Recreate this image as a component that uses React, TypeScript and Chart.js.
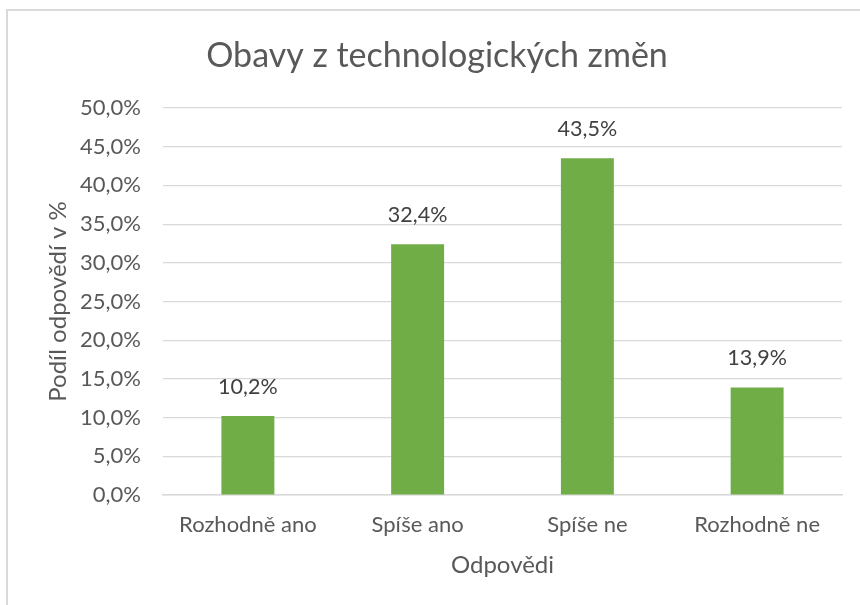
import React, { useEffect, useRef } from "react";
import { Chart, registerables } from "chart.js";

Chart.register(...registerables);

const chartTitle = "Obavy z technologických změn";
const categories = ["Rozhodně ano", "Spíše ano", "Spíše ne", "Rozhodně ne"];
const values = [10.2, 32.4, 43.5, 13.9];
const yAxisTitle = "Podíl odpovědí v %";
const xAxisTitle = "Odpovědi";
const yMin = 0;
const yMax = 50;
const yStep = 5;

const FONT = "Lato, 'Open Sans', sans-serif";
const fmt = (v: number) => v.toFixed(1).replace(".", ",") + "%";

const dataLabelPlugin = {
  id: "dataLabels",
  afterDatasetsDraw(chart: any) {
    const ctx = chart.ctx;
    const meta = chart.getDatasetMeta(0);
    ctx.save();
    ctx.font = `21.5px ${FONT}`;
    ctx.fillStyle = "#404040";
    ctx.textAlign = "center";
    ctx.textBaseline = "middle";
    meta.data.forEach((bar: any, i: number) => {
      const v = chart.data.datasets[0].data[i] as number;
      ctx.fillText(fmt(v), bar.x, bar.y - 29);
    });
    ctx.restore();
  },
};

export default function App() {
  const ref = useRef<HTMLCanvasElement | null>(null);
  useEffect(() => {
    if (!ref.current) return;
    const chart = new Chart(ref.current, {
      type: "bar",
      data: {
        labels: categories,
        datasets: [
          {
            data: values,
            backgroundColor: "#70AD47",
            borderWidth: 0,
            categoryPercentage: 0.312,
            barPercentage: 1,
          },
        ],
      },
      options: {
        responsive: false,
        animation: false,
        devicePixelRatio: 1,
        layout: { padding: { top: 36, right: 18, bottom: 0, left: 32 } },
        plugins: {
          legend: { display: false },
          tooltip: { enabled: false },
          title: {
            display: true,
            text: chartTitle,
            color: "#595959",
            font: { family: FONT, size: 34, weight: "normal" },
            padding: { top: 0, bottom: 31.2 },
          },
        },
        scales: {
          x: {
            grid: { display: false, drawTicks: false },
            border: { display: true, color: "#d9d9d9", width: 1.5 },
            ticks: {
              color: "#595959",
              font: { family: FONT, size: 22 },
              padding: 17,
              maxRotation: 0,
            },
            title: {
              display: true,
              text: xAxisTitle,
              color: "#595959",
              font: { family: FONT, size: 24 },
              padding: { top: 0, bottom: 25.6 },
            },
            afterFit(scale: any) {
              scale.height = 605 - 495;
            },
          },
          y: {
            min: yMin,
            max: yMax,
            grid: { color: "#d9d9d9", lineWidth: 1.2, drawTicks: false },
            border: { display: false },
            ticks: {
              stepSize: yStep,
              color: "#595959",
              font: { family: FONT, size: 22 },
              padding: 22,
              callback: (v: any) => fmt(Number(v)),
            },
            title: {
              display: true,
              text: yAxisTitle,
              color: "#595959",
              font: { family: FONT, size: 24 },
              padding: { top: 11.6, bottom: 0 },
            },
            afterFit(scale: any) {
              scale.width = 131;
            },
          },
        },
      },
      plugins: [dataLabelPlugin],
    });
    return () => chart.destroy();
  }, []);

  return (
    <>
      <div
        style={{
          position: "fixed",
          left: 6,
          top: 9,
          width: 900,
          height: 700,
          borderTop: "2px solid #d9d9d9",
          borderLeft: "2px solid #d9d9d9",
          background: "#fff",
        }}
      />
      <canvas
        ref={ref}
        width={860}
        height={605}
        style={{ position: "fixed", left: 0, top: 0, width: 860, height: 605 }}
      />
    </>
  );
}
